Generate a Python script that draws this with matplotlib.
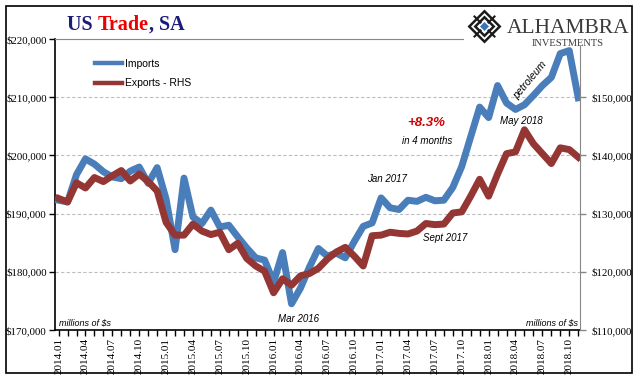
import numpy as np
import matplotlib.pyplot as plt
from matplotlib.lines import Line2D
from matplotlib.patches import Polygon, Rectangle
from matplotlib.ticker import FuncFormatter, MultipleLocator

plt.rcParams['font.family'] = ['Liberation Sans', 'DejaVu Sans']

# monthly values, 2014.01 .. 2018.11 (millions of $)
imports = [192300, 192000, 196700, 199400, 198500, 197200, 196300, 196000, 197300, 198000,
           195200, 197900, 192500, 183800, 196100, 189400, 188300, 190600, 187700, 188000,
           186000, 184100, 182400, 182000, 178200, 183300, 174500, 177200, 180800, 184000,
           182700, 183200, 182400, 185200, 187800, 188400, 192700, 191000, 190700, 192300,
           192100, 192800, 192200, 192300, 194500, 198100, 203200, 208300, 206500, 212000,
           209000, 207900, 208700, 210300, 212000, 213400, 217500, 218000, 209900]
exports = [132600, 132000, 135300, 134400, 136200, 135500, 136500, 137400, 135600, 136800,
           135500, 133900, 128500, 126300, 126300, 128200, 127000, 126400, 126800, 123800,
           124900, 122300, 121000, 120100, 116400, 118800, 117700, 119300, 119700, 120600,
           122200, 123400, 124200, 122700, 121000, 126200, 126300, 126800, 126600, 126500,
           127000, 128300, 128100, 128200, 130100, 130300, 133000, 135900, 133000, 136800,
           140300, 140600, 144400, 142000, 140300, 138600, 141300, 141000, 139700]
tick_labels = ['2014.01', '2014.04', '2014.07', '2014.10', '2015.01', '2015.04', '2015.07',
               '2015.10', '2016.01', '2016.04', '2016.07', '2016.10', '2017.01', '2017.04',
               '2017.07', '2017.10', '2018.01', '2018.04', '2018.07', '2018.10']
left_ticks = [170000, 180000, 190000, 200000, 210000, 220000]
right_ticks = [110000, 120000, 130000, 140000, 150000]

blue = '#4A7EBB'
red = '#943634'
W, H = 641, 381

fig = plt.figure(figsize=(W / 100, H / 100), dpi=100)
ax = fig.add_axes([55 / W, 1 - 330 / H, 525 / W, 291 / H])
ax2 = ax.twinx()

x = np.arange(len(imports))
ax.plot(x, imports, color=blue, lw=5, solid_joinstyle='round', zorder=3)
ax2.plot(x, exports, color=red, lw=5, solid_joinstyle='round', zorder=3)

ax.set_xlim(-0.4, 58.2)
ax.set_ylim(170000, 220000)
ax2.set_ylim(110000, 160000)

money = FuncFormatter(lambda v, p: f'${v:,.0f}')
ax.set_yticks(left_ticks)
ax.yaxis.set_major_formatter(money)
ax2.set_yticks(right_ticks)
ax2.yaxis.set_major_formatter(money)

ax.set_xticks(range(0, len(imports), 3))
ax.set_xticklabels(tick_labels, rotation=90)
ax.xaxis.set_minor_locator(MultipleLocator(1))

ax.yaxis.grid(True, ls=(0, (3, 2)), color='#BDBDBD', lw=0.8)
ax.set_axisbelow(True)

ax.tick_params(axis='x', which='both', direction='out', length=4, width=1, color='black',
               labelsize=8, labelfontfamily='Liberation Serif', pad=2)
ax.tick_params(axis='y', direction='out', length=4, width=1, color='black',
               labelsize=7.8, labelfontfamily='Liberation Serif', pad=2)
ax2.tick_params(axis='y', direction='out', length=4, width=1, color='#878787',
                labelsize=7.8, labelfontfamily='Liberation Serif', pad=4)

for s in ['left', 'bottom']:
    ax.spines[s].set_color('black')
    ax.spines[s].set_linewidth(1.2)
ax.spines['top'].set_color('#878787')
ax.spines['right'].set_visible(False)
for s in ['left', 'top', 'bottom']:
    ax2.spines[s].set_visible(False)
ax2.spines['right'].set_color('#878787')

handles = [Line2D([], [], color=blue, lw=3.2), Line2D([], [], color=red, lw=3.2)]
ax2.legend(handles, ['Imports', 'Exports - RHS'], loc='upper left',
           bbox_to_anchor=((95 - 55) / 525, (330 - 59) / 291), frameon=False,
           borderpad=0, borderaxespad=0, handlelength=2.6, handletextpad=0.25,
           labelspacing=0.9, fontsize=7.5)

# annotations
ital = dict(style='italic', fontsize=7, ha='center', va='center', zorder=6)
ax.text(36.7, 195950, 'Jan 2017', **ital)
ax.text(43.1, 185800, 'Sept 2017', **ital)
ax.text(51.6, 205960, 'May 2018', **ital)
ax.text(26.8, 171900, 'Mar 2016', **ital)
ax.text(41.1, 202530, 'in 4 months', **ital)
ax.text(41.0, 205570, '+8.3%', color='#D00000', fontsize=9.5, fontweight='bold',
        style='italic', ha='center', va='center', zorder=6)
ax.text(52.6, 212950, 'petroleum', rotation=50, style='italic', fontsize=7.5,
        ha='center', va='center', zorder=6)
ax.text(0.008, 0.025, 'millions of $s', transform=ax.transAxes, style='italic',
        fontsize=6.5, ha='left', va='center')
ax.text(0.996, 0.025, 'millions of $s', transform=ax.transAxes, style='italic',
        fontsize=6.5, ha='right', va='center')

# decoration layer: border, title, logo
deco = fig.add_axes([0, 0, 1, 1], zorder=10)
deco.set_xlim(0, W)
deco.set_ylim(H, 0)
deco.axis('off')
deco.add_patch(Rectangle((5.5, 5.5), 626.5, 367.5, fill=False, ec='black', lw=1.2))
deco.add_patch(Rectangle((464, 7), 166, 39, fc='white', ec='none'))

cx, cy = 484.5, 26.5
def diamond(r, **kw):
    return Polygon([(cx, cy - r), (cx + r, cy), (cx, cy + r), (cx - r, cy)], closed=True, **kw)
deco.add_patch(diamond(17, fc='#1a1a1a', ec='none'))
deco.add_patch(diamond(13.5, fc='white', ec='none'))
deco.add_patch(diamond(11, fc='#1a1a1a', ec='none'))
deco.add_patch(diamond(7.5, fc='white', ec='none'))
deco.add_patch(diamond(4.5, fc='#3B73B9', ec='none'))
for dx, dy in [(-1, -1), (1, -1), (1, 1), (-1, 1)]:
    deco.plot([cx + dx * 4, cx + dx * 10], [cy + dy * 4, cy + dy * 10], color='#1a1a1a', lw=1.5)
deco.text(568, 33, 'ALHAMBRA', fontsize=15.5, family='Liberation Serif', color='#3a3a3a',
          ha='center', va='baseline')
deco.text(567.5, 45.5, 'INVESTMENTS', fontsize=7.5, family='Liberation Serif',
          color='#3a3a3a', ha='center', va='baseline')

renderer = fig.canvas.get_renderer()
tx = 67
for part, col in [('US ', '#1B1B7A'), ('Trade', '#EE0000'), (', SA', '#1B1B7A')]:
    t = deco.text(tx, 30, part, fontsize=14.5, family='Liberation Serif', fontweight='bold',
                  color=col, ha='left', va='baseline')
    bb = t.get_window_extent(renderer)
    tx += bb.width

fig.savefig('out.png', dpi=100)
